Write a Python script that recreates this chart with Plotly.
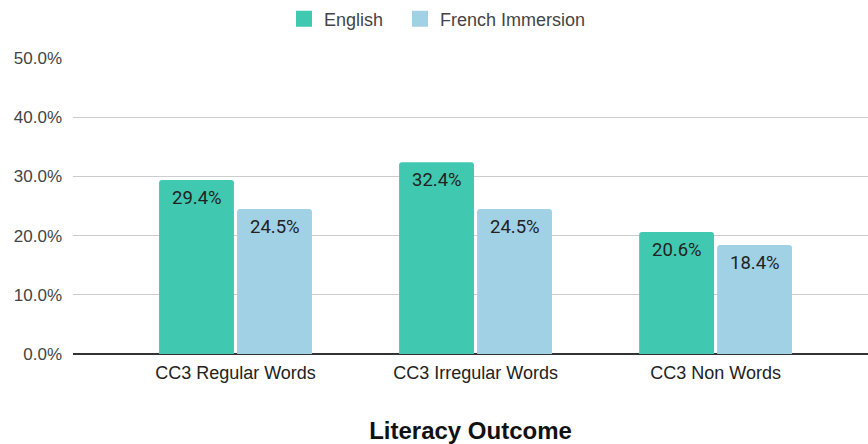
import plotly.graph_objects as go

categories = ["CC3 Regular Words", "CC3 Irregular Words", "CC3 Non Words"]
english = [29.4, 32.4, 20.6]
french = [24.5, 24.5, 18.4]
series_names = ["English", "French Immersion"]
colors = ["#40C9B0", "#A0D1E5"]
y_ticks = [0, 10, 20, 30, 40, 50]
y_tick_labels = ["0.0%", "10.0%", "20.0%", "30.0%", "40.0%", "50.0%"]

fig = go.Figure()
for name, vals, col, lg in zip(series_names, [english, french], colors, ["legend", "legend2"]):
    fig.add_trace(go.Bar(x=categories, y=vals, name=name, marker=dict(color=col, line=dict(width=0)),
                         showlegend=False, hoverinfo="skip"))
    fig.add_trace(go.Scatter(x=[None], y=[None], mode="markers", name=name, legend=lg,
                             marker=dict(symbol="square", size=19, color=col)))

# value labels
for vals, shift in [(english, -39), (french, 39.5)]:
    for c, v in zip(categories, vals):
        fig.add_annotation(x=c, y=v, text=f"{v:.1f}%", showarrow=False, xshift=shift,
                           yanchor="top", yshift=-5,
                           font=dict(family="Roboto", size=18.5, color="#222"))

leg_common = dict(orientation="h", xanchor="left", y=1 - 19 / 444, yanchor="middle",
                  xref="container", yref="container", font=dict(size=18, color="#444"),
                  itemwidth=30)
fig.update_layout(
    width=868, height=444,
    margin=dict(l=73, r=0, t=58, b=90),
    plot_bgcolor="white", paper_bgcolor="white",
    barmode="group", bargap=0.35, bargroupgap=0.04, barcornerradius=3,
    font=dict(family="Liberation Sans, Arial", size=17, color="#444"),
    legend=dict(x=284 / 868, **leg_common),
    legend2=dict(x=400 / 868, **leg_common),
    xaxis=dict(type="category", range=[-0.677, 2.635], showgrid=False,
               tickfont=dict(color="#222", size=18), ticks="", ticklabelstandoff=6,
               title=dict(text="<b>Literacy Outcome</b>", font=dict(size=24, color="#111"), standoff=40)),
    yaxis=dict(range=[0, 50], tickvals=y_ticks, ticktext=y_tick_labels, showgrid=True,
               gridcolor="#CCCCCC", gridwidth=1, zeroline=True, zerolinecolor="#333",
               zerolinewidth=1.5, ticks="", ticklabelstandoff=10, showline=False),
)
fig.write_html("out.html")
